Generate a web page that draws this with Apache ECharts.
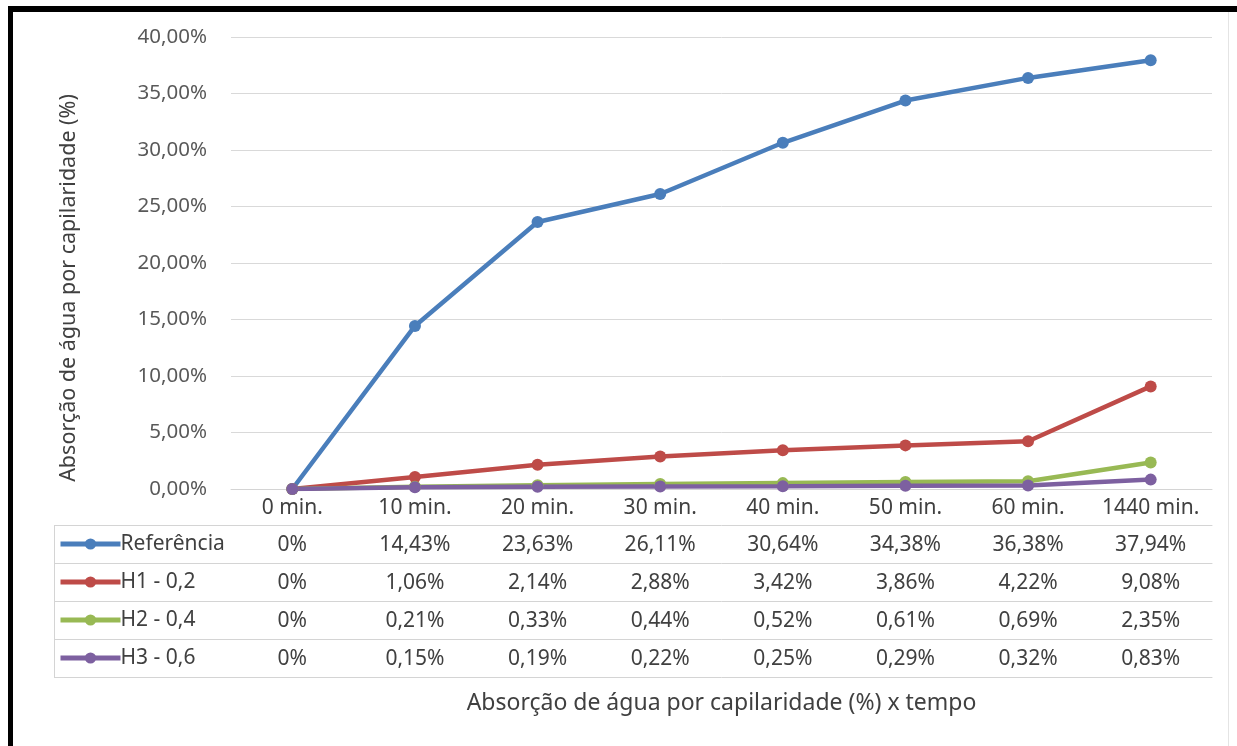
<!DOCTYPE html>
<html>
<head>
<meta charset="utf-8">
<script src="https://cdn.jsdelivr.net/npm/echarts@6/dist/echarts.min.js"></script>
<style>
  html, body { margin: 0; padding: 0; background: #fff; }
  #frame { position: absolute; left: 8px; top: 6px; width: 1400px; height: 800px;
           border-left: 5px solid #000; border-top: 6px solid #000; }
  #edge { position: absolute; left: 1228px; top: 12px; width: 1px; height: 740px; background: #e4e4e4; }
  #main { position: absolute; left: 0; top: 0; width: 1237px; height: 746px; }
</style>
</head>
<body>
<div id="frame"></div>
<div id="edge"></div>
<div id="main"></div>
<script>
var chartDom = document.getElementById('main');
var myChart = echarts.init(chartDom, null, { renderer: 'canvas' });

// data (percent)
var tempos = ['0 min.', '10 min.', '20 min.', '30 min.', '40 min.', '50 min.', '60 min.', '1440 min.'];
var seriesNames = ['Referência', 'H1 - 0,2', 'H2 - 0,4', 'H3 - 0,6'];
var referencia = [0, 14.43, 23.63, 26.11, 30.64, 34.38, 36.38, 37.94];
var h1 = [0, 1.06, 2.14, 2.88, 3.42, 3.86, 4.22, 9.08];
var h2 = [0, 0.21, 0.33, 0.44, 0.52, 0.61, 0.69, 2.35];
var h3 = [0, 0.15, 0.19, 0.22, 0.25, 0.29, 0.32, 0.83];
var yTicks = [0, 5, 10, 15, 20, 25, 30, 35, 40];

var allData = [referencia, h1, h2, h3];
var colors = ['#4a7ebb', '#be4b48', '#98b954', '#7d60a0'];

// layout
var gridLeft = 231, gridRight = 25, gridTop = 37, gridBottom = 257;
var headH = 36, rowH = 38, tableLeft = 54;
var axisY = 746 - gridBottom;
var lineCol = '#d4d4d4';
var txtCol = '#404040';
var font = 'Noto Sans';
var fs = 21;

function pct(v) {
    if (v === 0) return '0%';
    return v.toFixed(2).replace('.', ',') + '%';
}

var xAxes = [{
    type: 'category',
    data: tempos,
    position: 'bottom',
    axisLine: { lineStyle: { color: lineCol, width: 1 } },
    axisTick: { length: headH, lineStyle: { color: lineCol } },
    axisLabel: { margin: 9, interval: 0, fontFamily: font, fontSize: fs, color: txtCol },
    splitLine: { show: false }
}];
allData.forEach(function (arr, i) {
    xAxes.push({
        type: 'category',
        data: tempos,
        position: 'bottom',
        offset: headH + rowH * i,
        axisLine: { lineStyle: { color: lineCol, width: 1 } },
        axisTick: { length: rowH, lineStyle: { color: lineCol } },
        axisLabel: {
            margin: 10, interval: 0, fontFamily: font, fontSize: fs, color: txtCol,
            formatter: function (val, idx) { return pct(arr[idx]); }
        },
        splitLine: { show: false }
    });
});
// bottom border of the table
xAxes.push({
    type: 'category',
    data: tempos,
    position: 'bottom',
    offset: headH + rowH * allData.length,
    axisLine: { lineStyle: { color: lineCol, width: 1 } },
    axisTick: { show: false },
    axisLabel: { show: false },
    splitLine: { show: false }
});

// legend column lines
var graphics = [];
for (var k = 0; k <= allData.length; k++) {
    var yy = axisY + headH + rowH * k + 0.5;
    graphics.push({ type: 'line', silent: true,
        shape: { x1: tableLeft, y1: yy, x2: gridLeft, y2: yy },
        style: { stroke: lineCol, lineWidth: 1 } });
}
graphics.push({ type: 'line', silent: true,
    shape: { x1: tableLeft + 0.5, y1: axisY + headH, x2: tableLeft + 0.5, y2: axisY + headH + rowH * allData.length },
    style: { stroke: lineCol, lineWidth: 1 } });
// y axis title
graphics.push({
    type: 'text', x: 69, y: 288, rotation: Math.PI / 2,
    style: { text: 'Absorção de água por capilaridade (%)', fontFamily: font, fontSize: 21.5,
             fill: txtCol, align: 'center', verticalAlign: 'middle' }
});
// x title
graphics.push({
    type: 'text', x: (gridLeft + 1237 - gridRight) / 2, y: 703,
    style: { text: 'Absorção de água por capilaridade (%) x tempo', fontFamily: font, fontSize: 23,
             fill: txtCol, align: 'center', verticalAlign: 'middle' }
});

var option = {
    animation: false,
    backgroundColor: 'transparent',
    color: colors,
    grid: { left: gridLeft, right: gridRight, top: gridTop, bottom: gridBottom, containLabel: false },
    legend: {
        orient: 'vertical',
        left: 58,
        top: axisY + headH + 7,
        padding: 0,
        itemWidth: 60,
        itemHeight: 14,
        itemGap: 14,
        lineStyle: { width: 5 },
        textStyle: { fontFamily: font, fontSize: fs, color: txtCol, lineHeight: 24, padding: [0, 0, 0, -5] },
        data: seriesNames
    },
    xAxis: xAxes,
    yAxis: {
        type: 'value',
        min: yTicks[0],
        max: yTicks[yTicks.length - 1],
        interval: yTicks[1] - yTicks[0],
        axisLine: { show: false },
        axisTick: { show: false },
        axisLabel: { margin: 24, fontFamily: font, fontSize: 20.5, color: '#595959',
            formatter: function (v) { return v.toFixed(2).replace('.', ',') + '%'; } },
        splitLine: { lineStyle: { color: '#d9d9d9', width: 1 } }
    },
    series: allData.map(function (arr, i) {
        return {
            name: seriesNames[i],
            type: 'line',
            data: arr,
            symbol: 'circle',
            symbolSize: 12,
            lineStyle: { width: 4.5, color: colors[i] },
            itemStyle: { color: colors[i] }
        };
    }),
    graphic: graphics
};
myChart.setOption(option);
</script>
</body>
</html>
